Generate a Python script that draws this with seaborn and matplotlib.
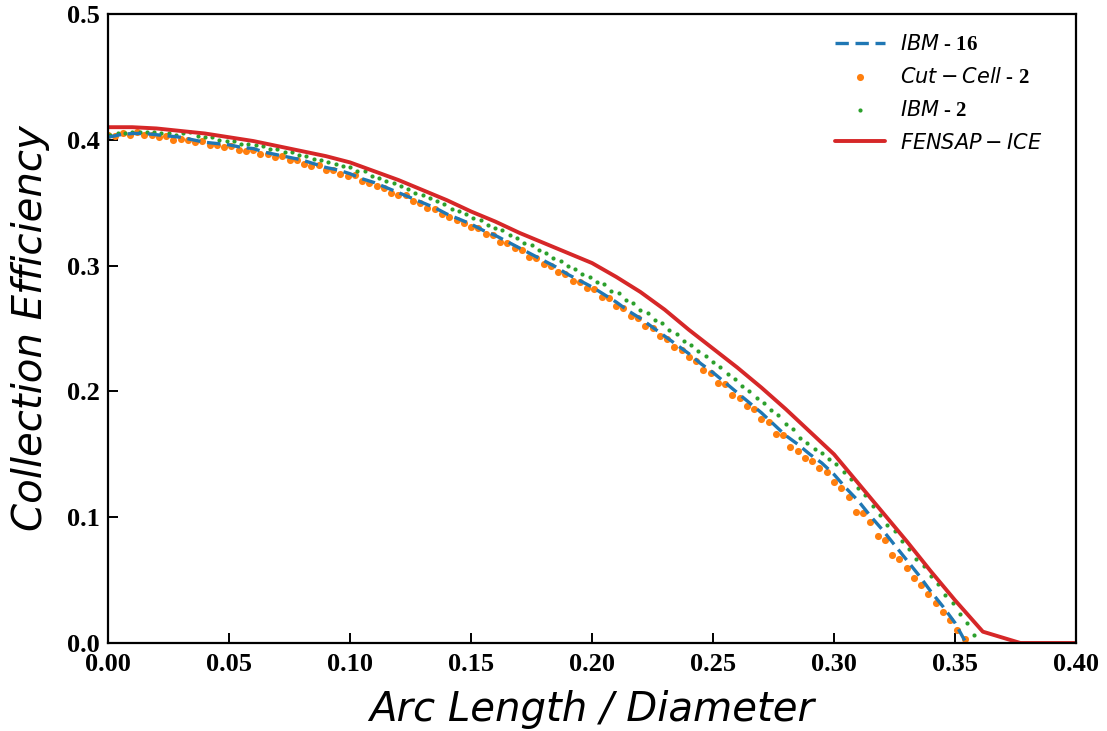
import matplotlib
matplotlib.use("Agg")
import matplotlib.pyplot as plt
import seaborn as sns
import pandas as pd

# ---------------- data ----------------
ibm16_x = [0.000, 0.005, 0.010, 0.015, 0.020, 0.025, 0.030, 0.035, 0.040, 0.045,
           0.050, 0.055, 0.060, 0.065, 0.070, 0.075, 0.080, 0.085, 0.090, 0.095,
           0.100, 0.105, 0.110, 0.115, 0.120, 0.125, 0.130, 0.135, 0.140, 0.145,
           0.150, 0.155, 0.160, 0.165, 0.170, 0.175, 0.180, 0.185, 0.190, 0.195,
           0.200, 0.205, 0.210, 0.215, 0.220, 0.225, 0.230, 0.235, 0.240, 0.245,
           0.250, 0.255, 0.260, 0.265, 0.270, 0.275, 0.280, 0.285, 0.290, 0.295,
           0.300, 0.305, 0.310, 0.315, 0.320, 0.325, 0.330, 0.335, 0.340, 0.345,
           0.350, 0.354]
ibm16_y = [0.402, 0.404, 0.405, 0.405, 0.404, 0.403, 0.402, 0.400, 0.398, 0.397,
           0.396, 0.394, 0.393, 0.390, 0.388, 0.386, 0.384, 0.381, 0.378, 0.376,
           0.373, 0.369, 0.366, 0.362, 0.358, 0.354, 0.350, 0.346, 0.341, 0.337,
           0.333, 0.328, 0.324, 0.319, 0.314, 0.309, 0.304, 0.299, 0.293, 0.288,
           0.283, 0.277, 0.271, 0.264, 0.258, 0.251, 0.244, 0.237, 0.230, 0.222,
           0.215, 0.207, 0.199, 0.191, 0.183, 0.174, 0.165, 0.158, 0.150, 0.143,
           0.134, 0.123, 0.113, 0.101, 0.090, 0.078, 0.066, 0.054, 0.041, 0.029,
           0.016, 0.002]

cutcell_x = [0.000, 0.003, 0.006, 0.009, 0.012, 0.015, 0.018, 0.021, 0.024, 0.027,
             0.030, 0.033, 0.036, 0.039, 0.042, 0.045, 0.048, 0.051, 0.054, 0.057,
             0.060, 0.063, 0.066, 0.069, 0.072, 0.075, 0.078, 0.081, 0.084, 0.087,
             0.090, 0.093, 0.096, 0.099, 0.102, 0.105, 0.108, 0.111, 0.114, 0.117,
             0.120, 0.123, 0.126, 0.129, 0.132, 0.135, 0.138, 0.141, 0.144, 0.147,
             0.150, 0.153, 0.156, 0.159, 0.162, 0.165, 0.168, 0.171, 0.174, 0.177,
             0.180, 0.183, 0.186, 0.189, 0.192, 0.195, 0.198, 0.201, 0.204, 0.207,
             0.210, 0.213, 0.216, 0.219, 0.222, 0.225, 0.228, 0.231, 0.234, 0.237,
             0.240, 0.243, 0.246, 0.249, 0.252, 0.255, 0.258, 0.261, 0.264, 0.267,
             0.270, 0.273, 0.276, 0.279, 0.282, 0.285, 0.288, 0.291, 0.294, 0.297,
             0.300, 0.303, 0.306, 0.309, 0.312, 0.315, 0.318, 0.321, 0.324, 0.327,
             0.330, 0.333, 0.336, 0.339, 0.342, 0.345, 0.348, 0.351, 0.354]
cutcell_y = [0.404, 0.403, 0.405, 0.404, 0.406, 0.404, 0.404, 0.402, 0.403, 0.400,
             0.401, 0.400, 0.398, 0.399, 0.396, 0.396, 0.394, 0.395, 0.392, 0.391,
             0.392, 0.389, 0.389, 0.386, 0.387, 0.384, 0.384, 0.381, 0.379, 0.380,
             0.376, 0.376, 0.373, 0.371, 0.372, 0.367, 0.366, 0.363, 0.362, 0.358,
             0.356, 0.356, 0.351, 0.350, 0.346, 0.345, 0.341, 0.339, 0.336, 0.334,
             0.331, 0.330, 0.325, 0.324, 0.319, 0.318, 0.314, 0.312, 0.307, 0.306,
             0.301, 0.300, 0.295, 0.293, 0.288, 0.287, 0.282, 0.281, 0.275, 0.274,
             0.268, 0.266, 0.260, 0.258, 0.252, 0.250, 0.244, 0.242, 0.235, 0.233,
             0.227, 0.224, 0.217, 0.215, 0.207, 0.206, 0.197, 0.195, 0.188, 0.186,
             0.178, 0.176, 0.166, 0.165, 0.156, 0.153, 0.147, 0.145, 0.139, 0.136,
             0.128, 0.123, 0.116, 0.104, 0.103, 0.096, 0.085, 0.082, 0.070, 0.067,
             0.060, 0.052, 0.046, 0.039, 0.032, 0.025, 0.018, 0.010, 0.003]

ibm2_x = [0.001, 0.004, 0.007, 0.010, 0.013, 0.016, 0.019, 0.022, 0.025, 0.028,
          0.031, 0.034, 0.037, 0.040, 0.043, 0.046, 0.049, 0.052, 0.055, 0.058,
          0.061, 0.064, 0.067, 0.070, 0.073, 0.076, 0.079, 0.082, 0.085, 0.088,
          0.091, 0.094, 0.097, 0.100, 0.103, 0.106, 0.109, 0.112, 0.115, 0.118,
          0.121, 0.124, 0.127, 0.130, 0.133, 0.136, 0.139, 0.142, 0.145, 0.148,
          0.151, 0.154, 0.157, 0.160, 0.163, 0.166, 0.169, 0.172, 0.175, 0.178,
          0.181, 0.184, 0.187, 0.190, 0.193, 0.196, 0.199, 0.202, 0.205, 0.208,
          0.211, 0.214, 0.217, 0.220, 0.223, 0.226, 0.229, 0.232, 0.235, 0.238,
          0.241, 0.244, 0.247, 0.250, 0.253, 0.256, 0.259, 0.262, 0.265, 0.268,
          0.271, 0.274, 0.277, 0.280, 0.283, 0.286, 0.289, 0.292, 0.295, 0.298,
          0.301, 0.304, 0.307, 0.310, 0.313, 0.316, 0.319, 0.322, 0.325, 0.328,
          0.331, 0.334, 0.337, 0.340, 0.343, 0.346, 0.349, 0.352, 0.355, 0.358]
ibm2_y = [0.404, 0.405, 0.405, 0.406, 0.406, 0.406, 0.406, 0.405, 0.405, 0.404,
          0.405, 0.406, 0.403, 0.402, 0.402, 0.400, 0.399, 0.399, 0.397, 0.397,
          0.396, 0.395, 0.393, 0.393, 0.390, 0.390, 0.388, 0.387, 0.385, 0.384,
          0.382, 0.381, 0.379, 0.378, 0.375, 0.375, 0.371, 0.370, 0.367, 0.366,
          0.363, 0.361, 0.358, 0.356, 0.354, 0.351, 0.349, 0.345, 0.343, 0.341,
          0.338, 0.336, 0.332, 0.330, 0.328, 0.324, 0.322, 0.318, 0.316, 0.312,
          0.310, 0.306, 0.304, 0.300, 0.297, 0.293, 0.291, 0.287, 0.285, 0.280,
          0.278, 0.273, 0.270, 0.265, 0.262, 0.257, 0.254, 0.249, 0.246, 0.240,
          0.237, 0.232, 0.228, 0.223, 0.219, 0.214, 0.210, 0.204, 0.200, 0.195,
          0.191, 0.185, 0.181, 0.174, 0.170, 0.163, 0.159, 0.154, 0.151, 0.146,
          0.142, 0.136, 0.130, 0.123, 0.118, 0.109, 0.102, 0.094, 0.089, 0.081,
          0.075, 0.067, 0.061, 0.053, 0.047, 0.038, 0.032, 0.023, 0.016, 0.006]

fensap_x = [0.000, 0.010, 0.020, 0.030, 0.040, 0.050, 0.060, 0.070, 0.080, 0.090,
            0.100, 0.110, 0.120, 0.130, 0.140, 0.150, 0.160, 0.170, 0.180, 0.190,
            0.200, 0.210, 0.220, 0.230, 0.240, 0.250, 0.260, 0.270, 0.280, 0.290,
            0.300, 0.310, 0.320, 0.330, 0.340, 0.350, 0.3615, 0.377, 0.400]
fensap_y = [0.410, 0.410, 0.409, 0.407, 0.405, 0.402, 0.399, 0.395, 0.391, 0.387,
            0.382, 0.375, 0.368, 0.360, 0.352, 0.343, 0.335, 0.326, 0.318, 0.310,
            0.302, 0.291, 0.279, 0.265, 0.249, 0.234, 0.219, 0.203, 0.186, 0.168,
            0.150, 0.127, 0.104, 0.081, 0.057, 0.034, 0.009, 0.000, 0.000]

labels = [r"$IBM$ - 16", r"$Cut-Cell$ - 2", r"$IBM$ - 2", r"$FENSAP-ICE$"]
x_ticks = [0.00, 0.05, 0.10, 0.15, 0.20, 0.25, 0.30, 0.35, 0.40]
y_ticks = [0.0, 0.1, 0.2, 0.3, 0.4, 0.5]

# ---------------- plotting ----------------
sns.set_theme(style="ticks")
plt.rcParams["font.family"] = ["DejaVu Sans"]
plt.rcParams["mathtext.fontset"] = "dejavusans"
for key in ["text.color", "axes.labelcolor", "xtick.color", "ytick.color",
            "xtick.labelcolor", "ytick.labelcolor", "axes.edgecolor"]:
    plt.rcParams[key] = "black"

fig = plt.figure(figsize=(11.07, 7.31), dpi=100)
ax = fig.add_axes([0.0976, 0.1204, 0.8744, 0.8605])

c_blue, c_orange, c_green, c_red = "#1f77b4", "#ff7f0e", "#2ca02c", "#d62728"

sns.lineplot(x=ibm16_x, y=ibm16_y, ax=ax, color=c_blue, lw=2.4,
             linestyle=(0, (4, 2)), label=labels[0], sort=False)
sns.scatterplot(x=cutcell_x, y=cutcell_y, ax=ax, color=c_orange, s=26,
                linewidth=0, label=labels[1])
sns.scatterplot(x=ibm2_x, y=ibm2_y, ax=ax, color=c_green, s=9,
                linewidth=0, label=labels[2])
sns.lineplot(x=fensap_x, y=fensap_y, ax=ax, color=c_red, lw=2.8,
             label=labels[3], sort=False)

ax.set_xlim(0, 0.4)
ax.set_ylim(0, 0.5)
ax.set_xticks(x_ticks)
ax.set_yticks(y_ticks)
ax.set_xticklabels([f"{v:.2f}" for v in x_ticks])
ax.set_yticklabels([f"{v:.1f}" for v in y_ticks])
for lab in ax.get_xticklabels() + ax.get_yticklabels():
    lab.set_fontfamily("Liberation Serif")
    lab.set_fontweight("bold")
    lab.set_fontsize(19)
    lab.set_color("black")
ax.tick_params(direction="in", length=7, width=1.4, colors="black")
ax.tick_params(axis="x", pad=7)
ax.tick_params(axis="y", pad=6)

for sp in ax.spines.values():
    sp.set_color("black")
    sp.set_linewidth(1.6)

ax.set_xlabel("Arc Length / Diameter", fontsize=29, fontstyle="italic",
              family="DejaVu Sans", labelpad=10, color="black")
ax.set_ylabel("Collection Efficiency", fontsize=29, fontstyle="italic",
              family="DejaVu Sans", labelpad=12, color="black")

leg = ax.legend(loc="upper right", bbox_to_anchor=(0.980, 0.99), frameon=False,
                handlelength=2.4,
                prop={"family": "Liberation Serif", "weight": "bold", "size": 15},
                borderaxespad=0.3, labelspacing=0.62, markerscale=1.0,
                handletextpad=0.7)
for t in leg.get_texts():
    t.set_color("black")

fig.savefig("out.png", dpi=100)
